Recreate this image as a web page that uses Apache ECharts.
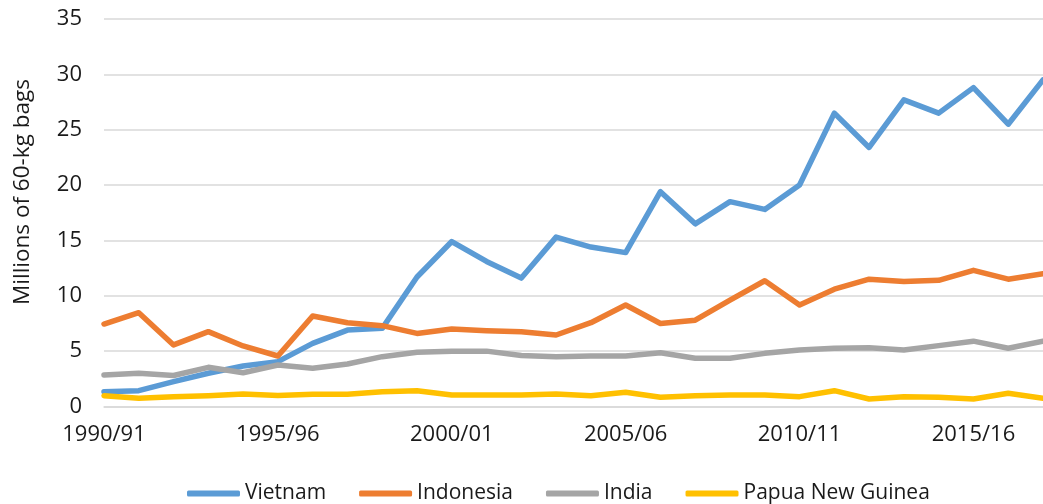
<!DOCTYPE html>
<html>
<head>
<meta charset="utf-8">
<script src="https://cdn.jsdelivr.net/npm/echarts@6/dist/echarts.min.js"></script>
<style>
  html, body { margin: 0; padding: 0; background: #fff; }
  #main { width: 1043px; height: 504px; }
</style>
</head>
<body>
<div id="main"></div>
<script>
// crop years 1990/91 .. 2017/18
var years = ['1990/91', '1991/92', '1992/93', '1993/94', '1994/95', '1995/96', '1996/97', '1997/98',
  '1998/99', '1999/00', '2000/01', '2001/02', '2002/03', '2003/04', '2004/05', '2005/06', '2006/07',
  '2007/08', '2008/09', '2009/10', '2010/11', '2011/12', '2012/13', '2013/14', '2014/15', '2015/16',
  '2016/17', '2017/18'];

// millions of 60-kg bags
var vietnam = [1.34, 1.43, 2.24, 3.0, 3.66, 4.05, 5.7, 6.9, 7.06, 11.7, 14.9, 13.1, 11.6, 15.3, 14.4,
  13.9, 19.4, 16.5, 18.5, 17.8, 20.0, 26.5, 23.4, 27.7, 26.5, 28.8, 25.5, 29.5];
var indonesia = [7.45, 8.47, 5.56, 6.76, 5.47, 4.56, 8.18, 7.57, 7.3, 6.6, 7.0, 6.85, 6.76, 6.46, 7.57,
  9.17, 7.5, 7.8, 9.6, 11.36, 9.17, 10.6, 11.5, 11.28, 11.4, 12.3, 11.5, 12.0];
var india = [2.85, 3.0, 2.8, 3.54, 3.05, 3.75, 3.45, 3.84, 4.5, 4.9, 5.0, 5.0, 4.6, 4.5, 4.56, 4.56,
  4.86, 4.35, 4.35, 4.8, 5.1, 5.26, 5.3, 5.1, 5.5, 5.9, 5.26, 5.9];
var png = [0.98, 0.74, 0.89, 0.98, 1.13, 1.0, 1.1, 1.1, 1.34, 1.43, 1.04, 1.04, 1.04, 1.13, 0.98, 1.28,
  0.83, 0.98, 1.04, 1.04, 0.89, 1.43, 0.68, 0.89, 0.83, 0.68, 1.19, 0.75];

var seriesNames = ['Vietnam', 'Indonesia', 'India', 'Papua New Guinea'];
var colors = ['#5B9BD5', '#ED7D31', '#A5A5A5', '#FFC000'];

var font = '"Open Sans", sans-serif';
var textColor = '#1a1a1a';

var chart = echarts.init(document.getElementById('main'));

function lineSeries(name, data) {
  return {
    name: name,
    type: 'line',
    data: data,
    symbol: 'none',
    lineStyle: { width: 5.5, cap: 'round', join: 'round' }
  };
}

chart.setOption({
  animation: false,
  color: colors,
  grid: { left: 104, top: 19, width: 943, height: 387.5 },
  xAxis: {
    type: 'category',
    data: years,
    boundaryGap: false,
    axisTick: { show: false },
    axisLine: { lineStyle: { color: '#D9D9D9', width: 1.5 } },
    axisLabel: { interval: 4, color: textColor, fontFamily: font, fontSize: 22, margin: 17 },
    splitLine: { show: false }
  },
  yAxis: {
    type: 'value',
    min: 0,
    max: 35,
    interval: 5,
    axisLine: { show: false },
    axisTick: { show: false },
    axisLabel: { color: textColor, fontFamily: font, fontSize: 22, margin: 22 },
    splitLine: { lineStyle: { color: '#D9D9D9', width: 1.5 } }
  },
  legend: {
    data: seriesNames,
    left: 182,
    top: 478,
    icon: 'roundRect',
    itemWidth: 53,
    itemHeight: 6,
    itemGap: 33,
    textStyle: { color: textColor, fontFamily: font, fontSize: 21 }
  },
  graphic: [{
    type: 'text',
    x: 23,
    y: 192,
    rotation: Math.PI / 2,
    style: {
      text: 'Millions of 60-kg bags',
      fill: textColor,
      font: '22.5px "Open Sans", sans-serif',
      textAlign: 'center',
      textVerticalAlign: 'middle'
    }
  }],
  series: [
    lineSeries(seriesNames[0], vietnam),
    lineSeries(seriesNames[1], indonesia),
    lineSeries(seriesNames[2], india),
    lineSeries(seriesNames[3], png)
  ]
});
</script>
</body>
</html>
